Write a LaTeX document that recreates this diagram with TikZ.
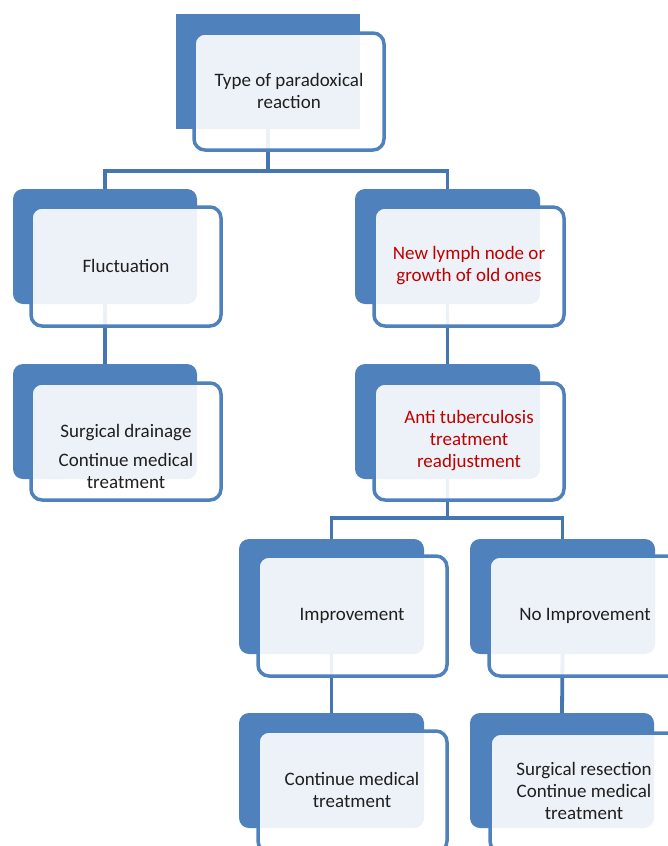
\documentclass[tikz,border=0pt]{standalone}
\usepackage{fontspec}
\setmainfont{Carlito}
\definecolor{myblue}{HTML}{4F81BD}
\definecolor{conncol}{HTML}{4676B2}
\definecolor{redtxt}{HTML}{C00000}
\begin{document}
\begin{tikzpicture}[x=1pt,y=-1pt,
  back/.style={fill=myblue,draw=none,rounded corners=10pt,inner sep=0pt,outer sep=0pt,anchor=north west},
  front/.style={draw=myblue,line width=3.5pt,fill=white,fill opacity=0.9,rounded corners=11pt,inner sep=0pt,outer sep=0pt,anchor=north west},
  conn/.style={draw=conncol,line width=3.8pt},
  lbl/.style={font=\fontsize{19}{22}\selectfont,align=center,text=black!88,inner sep=0pt},
  rlbl/.style={lbl,text=redtxt}]
\useasboundingbox (0,0) rectangle (668,846);
\clip (0,0) rectangle (668,846);
% back blocks
\node[back,rounded corners=0pt,minimum width=184pt,minimum height=115pt] (b1) at (176,14) {};
\node[back,minimum width=184pt,minimum height=115pt] (b2) at (13,189) {};
\node[back,minimum width=185pt,minimum height=115pt] (b3) at (355,189) {};
\node[back,minimum width=184pt,minimum height=115pt] (b4) at (13,364) {};
\node[back,minimum width=185pt,minimum height=115pt] (b5) at (355,364) {};
\node[back,minimum width=185pt,minimum height=115pt] (b6) at (239,539) {};
\node[back,minimum width=185pt,minimum height=115pt] (b7) at (470,539) {};
\node[back,minimum width=185pt,minimum height=115pt] (b8) at (239,713) {};
\node[back,minimum width=184pt,minimum height=115pt] (b9) at (470,713) {};
% connectors
\draw[conn] (b1.south) -- (b1.south |- 0,171) -| (b2.north);
\draw[conn] (b1.south |- 0,171) -| (b3.north);
\draw[conn] (b2.south) -- (b4.north);
\draw[conn] (b3.south) -- (b5.north);
\draw[conn] (b5.south) -- (b5.south |- 0,518) -| (b6.north);
\draw[conn] (b5.south |- 0,518) -| (b7.north);
\draw[conn] (b6.south) -- (b8.north);
\draw[conn] (b7.south) -- (b9.north);
% front blocks
\node[front,minimum width=190pt,minimum height=117pt] (f1) at (194,33) {};
\node[front,minimum width=190pt,minimum height=119pt] (f2) at (31,207) {};
\node[front,minimum width=190pt,minimum height=119pt] (f3) at (374,207) {};
\node[front,minimum width=190pt,minimum height=117pt] (f4) at (31,383) {};
\node[front,minimum width=190pt,minimum height=117pt] (f5) at (374,383) {};
\node[front,minimum width=189pt,minimum height=120pt] (f6) at (258,556) {};
\node[front,minimum width=191pt,minimum height=120pt] (f7) at (489,556) {};
\node[front,minimum width=189pt,minimum height=121pt] (f8) at (258,731) {};
\node[front,minimum width=190pt,minimum height=119pt] (f9) at (490,733) {};
% labels
\node[lbl] (t1) at (289,91) {Type of paradoxical\\reaction};
\node[lbl] (t2) at (126,266) {Fluctuation};
\node[rlbl] (t3) at (469,266) {New lymph node or\\growth of old ones};
\node[lbl] (t4) at (126,456) {Surgical drainage\\[7pt]Continue medical\\treatment};
\node[rlbl] (t5) at (469,441) {Anti tuberculosis\\treatment\\readjustment};
\node[lbl] (t6) at (352,616) {Improvement};
\node[lbl] (t7) at (585,616) {No Improvement};
\node[lbl] (t8) at (352,790) {Continue medical\\treatment};
\node[lbl] (t9) at (584,791) {Surgical resection\\Continue medical\\treatment};
\end{tikzpicture}
\end{document}
